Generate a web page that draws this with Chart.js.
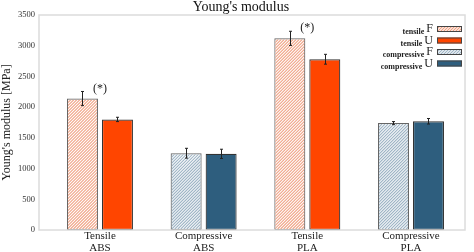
<!DOCTYPE html>
<html>
<head>
<meta charset="utf-8">
<script src="https://cdn.jsdelivr.net/npm/chart.js@4"></script>
<style>
  html, body { margin: 0; padding: 0; background: #fff; }
  canvas { display: block; }
</style>
</head>
<body>
<canvas id="chart" width="474" height="252"></canvas>
<script>
// Data
const categories = [['Tensile', 'ABS'], ['Compressive', 'ABS'], ['Tensile', 'PLA'], ['Compressive', 'PLA']];
const testTypes = ['tensile', 'compressive', 'tensile', 'compressive'];
const valuesF = [2140, 1250, 3120, 1740];
const errorsF = [115, 80, 115, 25];
const valuesU = [1800, 1240, 2780, 1770];
const errorsU = [35, 75, 80, 45];
const stars = ['(*)', '', '(*)', ''];
const legendItems = [['tensile', 'F'], ['tensile', 'U'], ['compressive', 'F'], ['compressive', 'U']];
const yTicks = [0, 500, 1000, 1500, 2000, 2500, 3000, 3500];

const serif = "'Liberation Serif', 'DejaVu Serif', serif";
const hatchColor = { tensile: '#f0a284', compressive: '#9fb5c6' };
const solidColor = { tensile: '#ff4500', compressive: '#2e5e7e' };

// draw "///" hatching inside a rectangle
function hatchRect(c, x0, y0, w, h, color) {
    c.save();
    c.beginPath();
    c.rect(x0, y0, w, h);
    c.clip();
    c.strokeStyle = color;
    c.lineWidth = 1.1;
    c.beginPath();
    for (let k = -h; k < w + h; k += 3) {
        c.moveTo(x0 + k, y0 + h);
        c.lineTo(x0 + k + h, y0);
    }
    c.stroke();
    c.restore();
}

// hatching, error bars, asterisks, legend, title and frame
const extras = {
    id: 'extras',
    afterDatasetsDraw(chart) {
        const c = chart.ctx;
        const y = chart.scales.y;
        const x = chart.scales.x;
        c.save();

        // hatch the F bars
        chart.getDatasetMeta(0).data.forEach((bar, i) => {
            const w = bar.width;
            const left = bar.x - w / 2;
            hatchRect(c, left + 1, bar.y + 1, w - 2, bar.base - bar.y - 2, hatchColor[testTypes[i]]);
        });

        c.strokeStyle = '#222';
        c.lineWidth = 1;
        chart.data.datasets.forEach((ds, di) => {
            const meta = chart.getDatasetMeta(di);
            meta.data.forEach((bar, i) => {
                const v = ds.data[i].y;
                const e = ds.errors[i];
                const top = y.getPixelForValue(v + e);
                const bot = y.getPixelForValue(v - e);
                const bx = Math.round(bar.x) + 0.5;
                c.beginPath();
                c.moveTo(bx, top); c.lineTo(bx, bot);
                c.moveTo(bx - 1.5, top); c.lineTo(bx + 1.5, top);
                c.moveTo(bx - 1.5, bot); c.lineTo(bx + 1.5, bot);
                c.stroke();
            });
        });

        // significance marks
        c.fillStyle = '#222';
        c.font = '12px ' + serif;
        c.textAlign = 'center';
        c.textBaseline = 'middle';
        stars.forEach((s, i) => {
            if (!s) return;
            const top = y.getPixelForValue(valuesF[i] + errorsF[i]);
            c.fillText(s, x.getPixelForValue(i), top - 3);
        });

        // frame around plot area
        const a = chart.chartArea;
        c.strokeStyle = '#dcdcdc';
        c.lineWidth = 1.5;
        c.strokeRect(a.left, a.top, a.right - a.left, a.bottom - a.top);

        // legend
        legendItems.forEach((item, i) => {
            const cy = 29 + i * 11.5;
            const type = item[0];
            if (item[1] === 'F') {
                c.fillStyle = '#fff';
                c.fillRect(437, cy - 3, 25, 6);
                hatchRect(c, 437, cy - 3, 25, 6, hatchColor[type]);
            } else {
                c.fillStyle = solidColor[type];
                c.fillRect(437, cy - 3, 25, 6);
            }
            c.strokeStyle = '#444';
            c.lineWidth = 1;
            c.strokeRect(437.5, cy - 2.5, 24, 5);
            c.fillStyle = '#222';
            c.textAlign = 'right';
            c.textBaseline = 'middle';
            c.font = '12px ' + serif;
            c.fillText(item[1], 433, cy);
            const w = c.measureText(item[1]).width;
            c.font = 'bold 8px ' + serif;
            c.fillText(item[0], 433 - w - 2, cy + 3);
        });

        // title
        c.fillStyle = '#111';
        c.font = '14px ' + serif;
        c.textAlign = 'center';
        c.textBaseline = 'middle';
        c.fillText("Young's modulus", 241, 7);
        c.restore();
    }
};

new Chart(document.getElementById('chart'), {
    type: 'bar',
    data: {
        datasets: [
            {
                label: 'F',
                data: valuesF.map((v, i) => ({ x: i, y: v })),
                errors: errorsF,
                backgroundColor: '#ffffff',
                borderColor: '#666',
                borderWidth: 1.2,
                borderSkipped: false,
                categoryPercentage: 0.675,
                barPercentage: 0.886
            },
            {
                label: 'U',
                data: valuesU.map((v, i) => ({ x: i, y: v })),
                errors: errorsU,
                backgroundColor: testTypes.map(t => solidColor[t]),
                borderColor: '#333',
                borderWidth: 1.2,
                borderSkipped: false,
                categoryPercentage: 0.675,
                barPercentage: 0.886
            }
        ]
    },
    options: {
        responsive: false,
        animation: false,
        devicePixelRatio: 1,
        layout: { padding: { top: 15, right: 9, left: 0, bottom: 0 } },
        plugins: {
            legend: { display: false },
            tooltip: { enabled: false }
        },
        scales: {
            x: {
                type: 'linear',
                offset: false,
                min: -0.588,
                max: 3.521,
                afterBuildTicks: axis => {
                    axis.ticks = categories.map((c, i) => ({ value: i }));
                },
                afterFit: axis => { axis.height = 22; },
                grid: { display: false, drawTicks: false },
                border: { display: false },
                ticks: {
                    padding: 0,
                    autoSkip: false,
                    maxRotation: 0,
                    color: '#222',
                    font: { family: serif, size: 11, lineHeight: 1.1 },
                    callback: value => categories[value]
                }
            },
            y: {
                min: 0,
                max: 3500,
                afterBuildTicks: axis => {
                    axis.ticks = yTicks.map(v => ({ value: v }));
                },
                afterFit: axis => { axis.width = 39; },
                grid: { display: false, drawTicks: false },
                border: { display: false },
                ticks: {
                    padding: 4,
                    color: '#333',
                    font: { family: serif, size: 8.5 },
                    callback: value => String(value)
                },
                title: {
                    display: true,
                    text: 'Young\'s modulus [MPa]',
                    color: '#222',
                    padding: 0,
                    font: { family: serif, size: 12 }
                }
            }
        }
    },
    plugins: [extras]
});
</script>
</body>
</html>
